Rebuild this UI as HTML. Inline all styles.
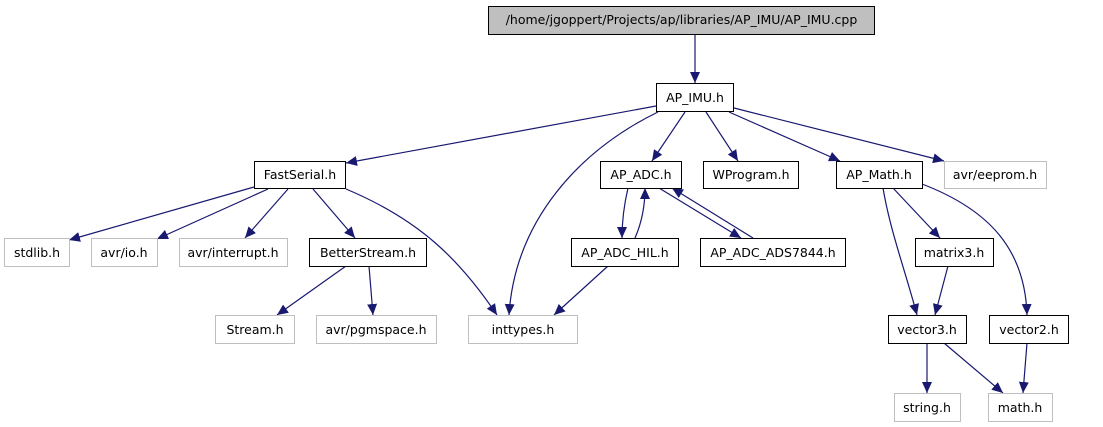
<!DOCTYPE html>
<html><head><meta charset="utf-8"><style>
html,body{margin:0;padding:0;background:#fff;}
svg{display:block;}
text{font-family:"DejaVu Sans","Liberation Sans",sans-serif;font-size:12.5px;fill:#000;}
</style></head><body>
<svg width="1103" height="427" viewBox="0 0 1103 427" xmlns="http://www.w3.org/2000/svg">
<defs>
<marker id="a" markerUnits="userSpaceOnUse" markerWidth="12" markerHeight="10" refX="11" refY="5" orient="auto">
<polygon points="0,0 11,5 0,10" fill="#191970"/>
</marker>
</defs>
<g fill="none" stroke="#191970" stroke-width="1.2" marker-end="url(#a)">
<path d="M695,34 L695,83"/>
<path d="M656,106 L346,163"/>
<path d="M658,112 C580,150 515,220 509,315"/>
<path d="M685,112 L652,161"/>
<path d="M706,112 L738,161"/>
<path d="M729,112 L840,161"/>
<path d="M734,108 L944,161"/>
<path d="M254,187 L69,240"/>
<path d="M268,189 L157,239"/>
<path d="M288,189 L245,238"/>
<path d="M313,189 L355,238"/>
<path d="M346,189 C420,220 460,260 497,315"/>
<path d="M346,266 L277,315"/>
<path d="M369,266 L373,315"/>
<path d="M608,266 L554,315"/>
<path d="M628,188 C624,205 622,220 622,238"/>
<path d="M635,238 C642,222 645,205 645,188"/>
<path d="M659,188 L741,238"/>
<path d="M753,238 L672,188"/>
<path d="M883,188 C890,230 905,270 917,315"/>
<path d="M893,188 L940,238"/>
<path d="M922,184 C990,210 1025,250 1027,315"/>
<path d="M948,266 L935,315"/>
<path d="M927,343 L927,393"/>
<path d="M944,343 L1003,393"/>
<path d="M1027,343 L1023,393"/>
</g>
<g stroke-width="1">
<rect x="488.5" y="6.5" width="386" height="28" fill="#bfbfbf" stroke="#000"/>
<rect x="656.5" y="83.5" width="77" height="28" fill="#fff" stroke="#000"/>
<rect x="254.5" y="161.5" width="91" height="27" fill="#fff" stroke="#000"/>
<rect x="600.5" y="161.5" width="81" height="27" fill="#fff" stroke="#000"/>
<rect x="703.5" y="161.5" width="95" height="27" fill="#fff" stroke="#000"/>
<rect x="836.5" y="161.5" width="86" height="27" fill="#fff" stroke="#000"/>
<rect x="944.5" y="161.5" width="102" height="27" fill="#fff" stroke="#bfbfbf"/>
<rect x="4.5" y="238.5" width="65" height="28" fill="#fff" stroke="#bfbfbf"/>
<rect x="91.5" y="238.5" width="66" height="28" fill="#fff" stroke="#bfbfbf"/>
<rect x="179.5" y="238.5" width="108" height="28" fill="#fff" stroke="#bfbfbf"/>
<rect x="309.5" y="238.5" width="117" height="28" fill="#fff" stroke="#000"/>
<rect x="571.5" y="238.5" width="107" height="28" fill="#fff" stroke="#000"/>
<rect x="700.5" y="238.5" width="145" height="28" fill="#fff" stroke="#000"/>
<rect x="915.5" y="238.5" width="78" height="28" fill="#fff" stroke="#000"/>
<rect x="215.5" y="315.5" width="79" height="28" fill="#fff" stroke="#bfbfbf"/>
<rect x="316.5" y="315.5" width="120" height="28" fill="#fff" stroke="#bfbfbf"/>
<rect x="468.5" y="315.5" width="109" height="28" fill="#fff" stroke="#bfbfbf"/>
<rect x="888.5" y="315.5" width="78" height="28" fill="#fff" stroke="#000"/>
<rect x="989.5" y="315.5" width="79" height="28" fill="#fff" stroke="#000"/>
<rect x="894.5" y="393.5" width="66" height="28" fill="#fff" stroke="#bfbfbf"/>
<rect x="988.5" y="393.5" width="64" height="28" fill="#fff" stroke="#bfbfbf"/>
</g>
<g text-anchor="middle">
<text x="681.5" y="24">/home/jgoppert/Projects/ap/libraries/AP_IMU/AP_IMU.cpp</text>
<text x="695" y="102">AP_IMU.h</text>
<text x="300" y="179">FastSerial.h</text>
<text x="641" y="179">AP_ADC.h</text>
<text x="751" y="179">WProgram.h</text>
<text x="879" y="179">AP_Math.h</text>
<text x="995" y="179">avr/eeprom.h</text>
<text x="37" y="257">stdlib.h</text>
<text x="124" y="257">avr/io.h</text>
<text x="233" y="257">avr/interrupt.h</text>
<text x="368" y="257">BetterStream.h</text>
<text x="625" y="257">AP_ADC_HIL.h</text>
<text x="773" y="257">AP_ADC_ADS7844.h</text>
<text x="954" y="257">matrix3.h</text>
<text x="255" y="334">Stream.h</text>
<text x="376" y="334">avr/pgmspace.h</text>
<text x="523" y="334">inttypes.h</text>
<text x="927" y="334">vector3.h</text>
<text x="1029" y="334">vector2.h</text>
<text x="927" y="412">string.h</text>
<text x="1020" y="412">math.h</text>
</g>
</svg>
</body></html>
